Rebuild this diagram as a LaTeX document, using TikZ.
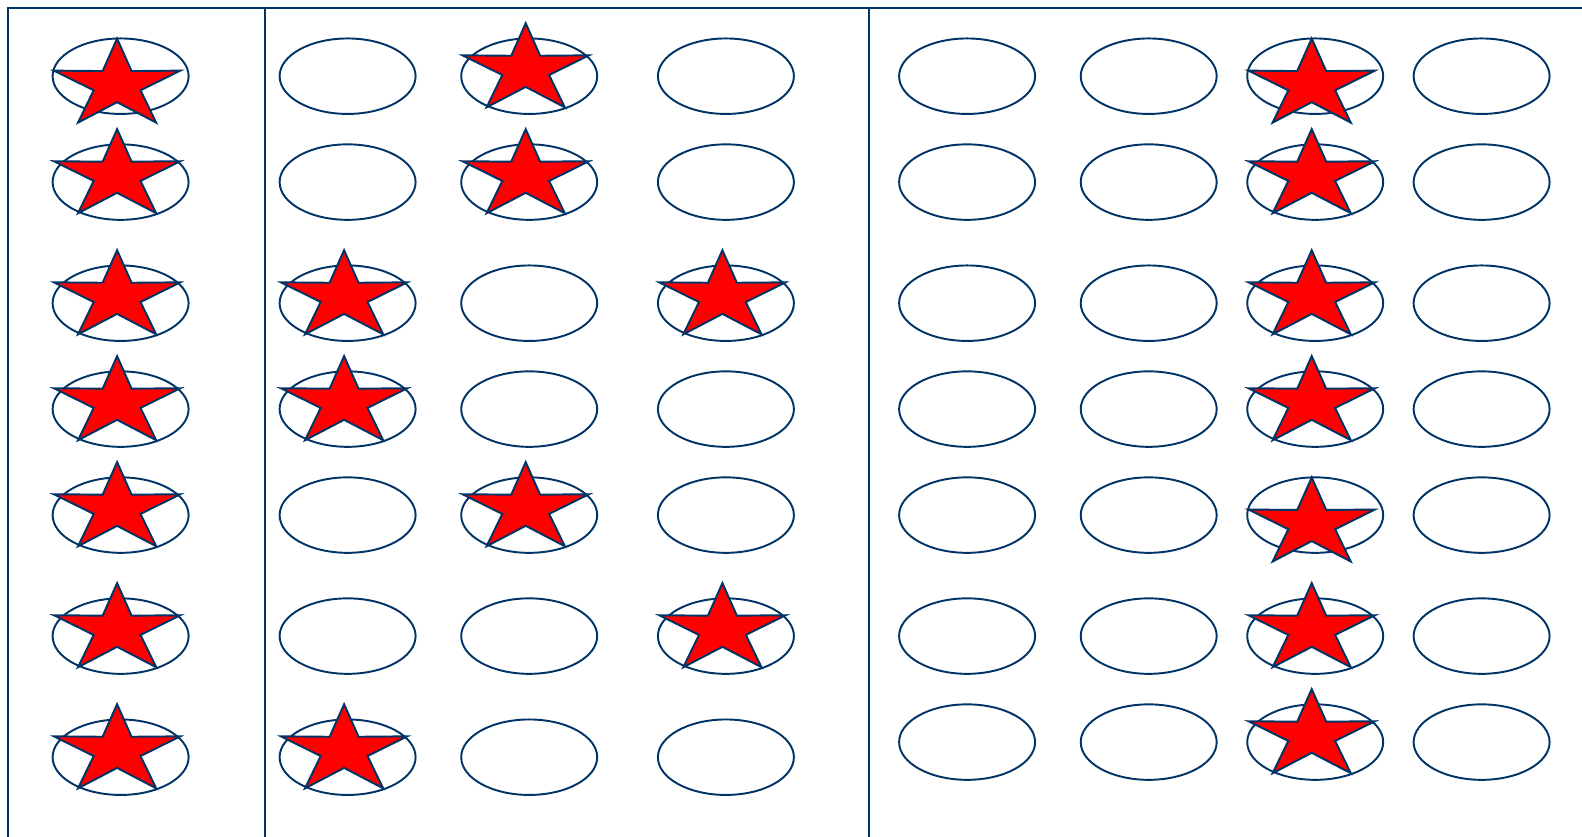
\documentclass[tikz,border=0pt]{standalone}
\usepackage{tikz}
\usetikzlibrary{shapes.geometric,calc}

\definecolor{navy}{RGB}{0,51,102}
\definecolor{starred}{RGB}{255,0,0}

\begin{document}
\begin{tikzpicture}[
  x=0.02cm, y=-0.02cm,
  frame/.style={draw=navy,line width=1.2pt},
  cell/.style={ellipse,draw=navy,line width=1.1pt,minimum width=2.72cm,minimum height=1.51cm,inner sep=0pt},
  hit/.style={star,star points=5,star point ratio=2.7,draw=navy,fill=starred,line width=1.1pt,minimum size=1.86cm,inner sep=0pt,xscale=1.43},
]
\useasboundingbox (0,0) rectangle (1582,837);

% frame
\draw[frame] (7.7,837) -- (7.7,8.3) -- (1582,8.3);
\draw[frame] (265,8.3) -- (265,837);
\draw[frame] (869,8.3) -- (869,837);

% left and middle block: ellipses
\foreach \c/\x in {1/120.6,2/347.6,3/529.2,4/725.9}
  \foreach \r/\y in {1/76.2,2/182.1,3/303.2,4/409.1,5/515.1,6/636.1,7/757.2}
    \node[cell] (e\c\r) at (\x,\y) {};

% right block: ellipses
\foreach \c/\x in {5/967.1,6/1148.7,7/1315.2,8/1481.6}
  \foreach \r/\y in {1/76.2,2/182.1,3/303.2,4/409.1,5/515.1,6/636.1,7/742.1}
    \node[cell] (e\c\r) at (\x,\y) {};

% stars sitting high on their ellipse
\foreach \s in {12,13,14,15,16,17,23,24,27,31,32,35,43,46,72,73,74,76,77}
  \node[hit] (s\s) at ($(e\s)+(-3.5,-6.5)$) {};

% stars sitting low on their ellipse
\foreach \s in {11,71,75}
  \node[hit] (s\s) at ($(e\s)+(-3.5,8.8)$) {};

\end{tikzpicture}
\end{document}
